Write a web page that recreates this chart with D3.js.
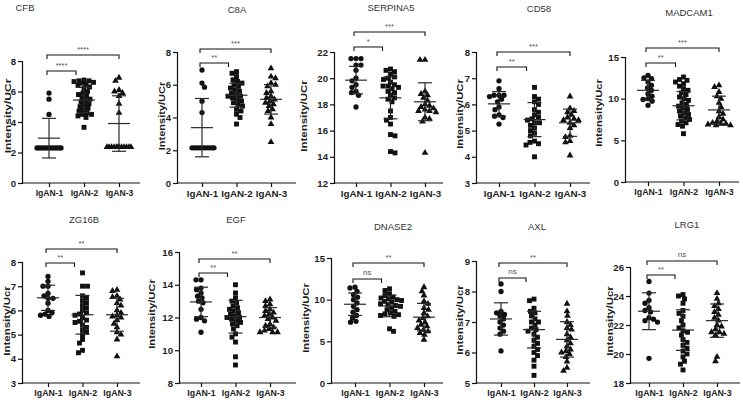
<!DOCTYPE html>
<html><head><meta charset="utf-8">
<script src="https://cdn.jsdelivr.net/npm/d3@7"></script>
<style>
html,body{margin:0;padding:0;background:#fff;}
svg{display:block;font-family:"Liberation Sans",Arial,sans-serif;}
</style></head>
<body><svg id="c" width="743" height="402"></svg>
<script>
// ---------- data ----------
const groups = ["IgAN-1", "IgAN-2", "IgAN-3"];
const genes = ["CFB", "C8A", "SERPINA5", "CD58", "MADCAM1", "ZG16B", "EGF", "DNASE2", "AXL", "LRG1"];
const yLabels = ["Intensity/UCr", "Intensity/UCr", "Intensity/UCr", "Intensity/UCr", "Intensity/Ucr",
                 "Intensity/Ucr", "Intensity/UCr", "Intensity/UCr", "Intensity/Ucr", "Intensity/Ucr"];

const cfbTicks = [0, 2, 4, 6, 8];
const cfbG1 = [5.9, 5.5, 4.5, 2.3, 2.3, 2.3, 2.3, 2.3, 2.3, 2.3, 2.3, 2.3, 2.3, 2.3];
const cfbG2 = [6.75, 6.7, 6.7, 6.65, 6.6, 6.55, 6.5, 6.4, 6.3, 6.2, 6.0, 5.9, 5.8, 5.7, 5.6, 5.5, 5.4, 5.3, 5.2, 5.1, 5.0, 4.9, 4.8, 4.7, 4.6, 4.5, 4.5, 4.4, 4.3, 3.65];
const cfbG3 = [6.9, 6.7, 6.1, 6.0, 5.9, 5.7, 5.2, 4.6, 2.35, 2.35, 2.35, 2.35, 2.35, 2.35, 2.35, 2.35, 2.35, 2.35, 2.35, 2.35];
const cfbMean = [2.94, 5.44, 3.9];
const cfbSD = [1.3, 0.83, 1.82];
const cfbSig = ["****", "****"];

const c8aTicks = [0, 2, 4, 6, 8];
const c8aG1 = [6.9, 6.1, 5.85, 5.0, 4.3, 2.15, 2.15, 2.15, 2.15, 2.15, 2.15, 2.15, 2.15, 2.15, 2.15];
const c8aG2 = [6.8, 6.7, 6.5, 6.3, 6.2, 6.1, 6.0, 5.9, 5.8, 5.7, 5.6, 5.5, 5.4, 5.3, 5.3, 5.2, 5.1, 5.0, 4.9, 4.8, 4.7, 4.5, 4.4, 4.2, 4.0, 3.6];
const c8aG3 = [7.0, 6.5, 6.4, 6.1, 6.0, 5.9, 5.6, 5.5, 5.3, 5.2, 5.1, 5.0, 4.9, 4.8, 4.7, 4.5, 4.4, 4.0, 3.6, 2.5];
const c8aMean = [3.38, 5.36, 5.11];
const c8aSD = [1.78, 0.73, 0.9];
const c8aSig = ["**", "***"];

const serTicks = [12, 14, 16, 18, 20, 22];
const serG1 = [21.5, 21.5, 21.5, 21.0, 21.0, 20.6, 20.0, 19.8, 19.5, 19.3, 19.0, 18.9, 18.7, 17.8];
const serG2 = [20.7, 20.6, 20.5, 20.3, 20.1, 20.0, 19.9, 19.7, 19.5, 19.4, 19.4, 19.3, 19.2, 19.0, 18.9, 18.7, 18.5, 18.4, 18.2, 17.5, 17.0, 16.8, 16.5, 15.7, 15.6, 14.4, 14.3];
const serG3 = [21.4, 21.4, 19.0, 18.8, 18.7, 18.5, 18.3, 18.0, 17.9, 17.8, 17.7, 17.6, 17.5, 17.5, 17.4, 17.0, 16.9, 16.7, 14.3];
const serMean = [19.85, 18.5, 18.2];
const serSD = [1.05, 1.6, 1.45];
const serSig = ["*", "***"];

const cd58Ticks = [3, 4, 5, 6, 7, 8];
const cd58G1 = [6.9, 6.6, 6.35, 6.35, 6.35, 6.3, 6.2, 6.1, 5.9, 5.8, 5.6, 5.55, 5.5, 5.25];
const cd58G2 = [6.65, 6.3, 6.2, 6.1, 6.0, 5.8, 5.7, 5.6, 5.5, 5.45, 5.4, 5.3, 5.3, 5.2, 5.1, 5.0, 4.9, 4.8, 4.6, 4.55, 4.5, 4.45, 4.0];
const cd58G3 = [6.3, 5.85, 5.75, 5.7, 5.6, 5.5, 5.45, 5.4, 5.4, 5.3, 5.2, 5.1, 4.8, 4.75, 4.6, 4.55, 4.05];
const cd58Mean = [6.02, 5.42, 5.3];
const cd58SD = [0.47, 0.65, 0.52];
const cd58Sig = ["**", "***"];

const madTicks = [0, 5, 10, 15];
const madG1 = [12.8, 12.5, 12.4, 12.0, 11.6, 11.3, 11.0, 10.6, 10.3, 10.0, 9.9, 9.7, 9.2];
const madG2 = [12.6, 12.3, 12.2, 12.0, 11.8, 11.5, 11.2, 11.0, 10.7, 10.5, 10.2, 10.0, 9.8, 9.5, 9.3, 9.1, 8.9, 8.7, 8.5, 8.3, 8.1, 7.9, 7.7, 7.5, 7.3, 7.1, 6.9, 6.7, 5.8];
const madG3 = [11.6, 11.4, 10.8, 10.3, 10.0, 9.5, 9.0, 8.5, 8.2, 7.8, 7.5, 7.3, 7.1, 7.0, 7.0, 6.9, 6.8, 6.8];
const madMean = [11.0, 9.15, 8.65];
const madSD = [1.2, 1.7, 1.65];
const madSig = ["**", "***"];

const zgTicks = [3, 4, 5, 6, 7, 8];
const zgG1 = [7.4, 7.2, 7.0, 7.0, 6.7, 6.6, 6.5, 6.5, 6.3, 6.0, 5.9, 5.85, 5.8, 5.75];
const zgG2 = [7.55, 7.0, 7.0, 6.6, 6.5, 6.4, 6.3, 6.2, 6.1, 6.0, 5.9, 5.85, 5.8, 5.7, 5.6, 5.55, 5.5, 5.4, 5.3, 5.2, 5.1, 5.0, 4.8, 4.65, 4.35, 4.25];
const zgG3 = [6.85, 6.8, 6.6, 6.55, 6.45, 6.3, 6.2, 6.0, 5.9, 5.8, 5.75, 5.7, 5.6, 5.45, 5.3, 5.1, 5.0, 4.8, 4.1];
const zgMean = [6.52, 5.82, 5.82];
const zgSD = [0.52, 0.8, 0.68];
const zgSig = ["**", "**"];

const egfTicks = [8, 10, 12, 14, 16];
const egfG1 = [14.3, 14.3, 13.8, 13.7, 13.5, 13.3, 13.2, 13.0, 12.9, 12.5, 12.0, 11.9, 11.8, 11.1];
const egfG2 = [14.0, 13.5, 13.2, 13.0, 12.9, 12.7, 12.6, 12.5, 12.4, 12.3, 12.2, 12.1, 12.0, 12.0, 11.9, 11.8, 11.7, 11.6, 11.5, 11.3, 11.0, 10.8, 10.5, 9.6, 9.1];
const egfG3 = [13.1, 13.0, 12.8, 12.7, 12.5, 12.4, 12.3, 12.2, 12.1, 12.0, 11.9, 11.8, 11.6, 11.5, 11.4, 11.3, 11.2, 11.1, 11.1, 11.1];
const egfMean = [12.95, 12.05, 12.0];
const egfSD = [0.9, 1.0, 0.6];
const egfSig = ["**", "**"];

const dnTicks = [0, 5, 10, 15];
const dnG1 = [11.5, 11.4, 11.0, 10.6, 10.3, 10.0, 9.6, 9.2, 8.8, 8.5, 8.1, 7.8, 7.4, 7.3];
const dnG2 = [11.3, 11.1, 10.7, 10.5, 10.3, 10.2, 10.1, 10.0, 9.9, 9.8, 9.7, 9.5, 9.4, 9.3, 9.2, 9.0, 8.8, 8.6, 8.4, 8.3, 8.2, 8.1, 8.0, 6.5, 6.2];
const dnG3 = [11.5, 11.0, 10.5, 9.8, 9.5, 9.0, 8.8, 8.4, 8.0, 7.8, 7.5, 7.3, 7.0, 6.8, 6.6, 6.4, 6.2, 6.0, 5.8, 5.2];
const dnMean = [9.45, 9.25, 7.9];
const dnSD = [1.35, 1.3, 1.65];
const dnSig = ["ns", "**"];

const axlTicks = [5, 6, 7, 8, 9];
const axlG1 = [8.25, 8.0, 7.35, 7.3, 7.25, 7.2, 7.1, 7.0, 6.9, 6.8, 6.7, 6.6, 6.05];
const axlG2 = [7.75, 7.7, 7.45, 7.35, 7.3, 7.2, 7.1, 7.0, 7.0, 6.9, 6.8, 6.75, 6.7, 6.6, 6.5, 6.4, 6.3, 6.2, 6.1, 6.0, 5.9, 5.75, 5.55, 5.25];
const axlG3 = [7.6, 7.35, 7.2, 7.0, 6.9, 6.8, 6.75, 6.6, 6.5, 6.4, 6.3, 6.2, 6.1, 6.05, 6.0, 5.95, 5.85, 5.7, 5.5, 5.4];
const axlMean = [7.1, 6.75, 6.43];
const axlSD = [0.53, 0.6, 0.58];
const axlSig = ["ns", "**"];

const lrgTicks = [18, 20, 22, 24, 26];
const lrgG1 = [25.0, 24.2, 23.7, 23.5, 23.2, 23.0, 22.9, 22.5, 22.4, 22.3, 22.2, 19.7];
const lrgG2 = [24.1, 24.0, 23.8, 23.5, 23.0, 22.8, 22.6, 22.3, 22.0, 21.8, 21.6, 21.5, 21.3, 21.0, 20.8, 20.6, 20.4, 20.2, 20.0, 19.8, 19.5, 19.3, 18.9];
const lrgG3 = [24.2, 23.8, 23.5, 23.3, 23.1, 22.9, 22.7, 22.5, 22.3, 22.0, 21.9, 21.7, 21.5, 21.5, 21.4, 21.3, 19.8, 19.5];
const lrgMean = [22.95, 21.65, 22.3];
const lrgSD = [1.27, 1.4, 1.15];
const lrgSig = ["**", "ns"];

// ---------- layout (pixels / font sizes) ----------
const layout = [
  {ax: 22,  top: 61,  bot: 183, c1: 49,  c3: 119, end: 140, tx: 25,  ty: 11,  lx: 7,   ly: 116, br: [71, 55],   xf: 8.6, lf: 12},
  {ax: 177, top: 52,  bot: 183, c1: 202, c3: 271, end: 296, tx: 237, ty: 13,  lx: 162, ly: 116, br: [63, 49],   xf: 9.8, lf: 11},
  {ax: 334, top: 52,  bot: 183, c1: 356, c3: 425, end: 443, tx: 391, ty: 11,  lx: 304, ly: 116, br: [47, 32],   xf: 9.8, lf: 11.5},
  {ax: 476, top: 52,  bot: 183, c1: 499, c3: 570, end: 590, tx: 539, ty: 12,  lx: 460, ly: 114, br: [67, 52],   xf: 9.8, lf: 11.2},
  {ax: 625, top: 57,  bot: 182, c1: 648, c3: 719, end: 739, tx: 689, ty: 16,  lx: 599, ly: 113, br: [63, 48],   xf: 8.8, lf: 11.2},
  {ax: 22,  top: 262, bot: 383, c1: 48,  c3: 117, end: 140, tx: 84,  ty: 223, lx: 7,   ly: 321, br: [263, 249], xf: 8.8, lf: 11.5},
  {ax: 179, top: 252, bot: 383, c1: 201, c3: 270, end: 296, tx: 236, ty: 223, lx: 152, ly: 314, br: [273, 259], xf: 8.8, lf: 11.2},
  {ax: 331, top: 258, bot: 383, c1: 355, c3: 424, end: 443, tx: 393, ty: 230, lx: 306, ly: 318, br: [279, 263], xf: 8.8, lf: 11.2},
  {ax: 476, top: 261, bot: 383, c1: 501, c3: 567, end: 590, tx: 537, ty: 230, lx: 460, ly: 320, br: [278, 263], xf: 8.8, lf: 11.5},
  {ax: 630, top: 267, bot: 383, c1: 649, c3: 717, end: 740, tx: 687, ty: 228, lx: 610, ly: 321, br: [275, 261], xf: 8.8, lf: 11.5}
];

const panelData = [
  {ticks: cfbTicks, g: [cfbG1, cfbG2, cfbG3], mean: cfbMean, sd: cfbSD, sig: cfbSig},
  {ticks: c8aTicks, g: [c8aG1, c8aG2, c8aG3], mean: c8aMean, sd: c8aSD, sig: c8aSig},
  {ticks: serTicks, g: [serG1, serG2, serG3], mean: serMean, sd: serSD, sig: serSig},
  {ticks: cd58Ticks, g: [cd58G1, cd58G2, cd58G3], mean: cd58Mean, sd: cd58SD, sig: cd58Sig},
  {ticks: madTicks, g: [madG1, madG2, madG3], mean: madMean, sd: madSD, sig: madSig},
  {ticks: zgTicks, g: [zgG1, zgG2, zgG3], mean: zgMean, sd: zgSD, sig: zgSig},
  {ticks: egfTicks, g: [egfG1, egfG2, egfG3], mean: egfMean, sd: egfSD, sig: egfSig},
  {ticks: dnTicks, g: [dnG1, dnG2, dnG3], mean: dnMean, sd: dnSD, sig: dnSig},
  {ticks: axlTicks, g: [axlG1, axlG2, axlG3], mean: axlMean, sd: axlSD, sig: axlSig},
  {ticks: lrgTicks, g: [lrgG1, lrgG2, lrgG3], mean: lrgMean, sd: lrgSD, sig: lrgSig}
];

// ---------- drawing ----------
const svg = d3.select("#c");
const symbols = [d3.symbolCircle, d3.symbolSquare, d3.symbolTriangle];
const symSize = [22, 24, 20];
const ink = "#111";
const barInk = "#2a2a2a";
const textInk = "#1e1e1e";

// deterministic swarm layout: x offsets that avoid overlap within a cap
function swarm(vals, yScale, cap, D) {
  const order = vals.map((v, i) => i).sort((a, b) => vals[b] - vals[a] || a - b);
  const placed = [];
  const out = new Array(vals.length).fill(0);
  const cands = [0];
  for (let s = 0.5; s <= cap; s += 0.5) { cands.push(s, -s); }
  order.forEach((i, n) => {
    const py = yScale(vals[i]);
    let best = 0, bestD = -1;
    const list = (n % 2) ? cands.map(c => -c) : cands;
    for (const cx of list) {
      let md = Infinity;
      for (const p of placed) {
        const d = Math.hypot(p[0] - cx, p[1] - py);
        if (d < md) md = d;
      }
      if (md >= D) { best = cx; break; }
      if (md > bestD) { bestD = md; best = cx; }
    }
    placed.push([best, py]);
    out[i] = best;
  });
  return out;
}

panelData.forEach((pd, k) => {
  const L = layout[k];
  const g = svg.append("g");
  const y = d3.scaleLinear().domain([pd.ticks[0], pd.ticks[pd.ticks.length - 1]]).range([L.bot, L.top]);
  const x = d3.scalePoint().domain(groups).range([L.c1, L.c3]);

  // title
  g.append("text").attr("x", L.tx).attr("y", L.ty).attr("text-anchor", "middle")
    .attr("font-size", 9.5).attr("fill", "#333").text(genes[k]);

  // y axis
  const yAxis = d3.axisLeft(y).tickValues(pd.ticks).tickSize(4).tickPadding(2).tickFormat(d3.format("d"));
  const ga = g.append("g").attr("transform", `translate(${L.ax},0)`).call(yAxis);
  ga.select(".domain").attr("stroke", ink).attr("stroke-width", 1.2);
  ga.selectAll(".tick line").attr("stroke", ink).attr("stroke-width", 1.2);
  ga.selectAll(".tick text").attr("font-size", 9.6).attr("font-weight", "bold")
    .attr("fill", textInk).attr("font-family", "Liberation Sans, Arial, sans-serif");

  // x axis
  const xAxis = d3.axisBottom(x).tickSize(4).tickSizeOuter(0).tickPadding(3);
  const gx = g.append("g").attr("transform", `translate(0,${L.bot})`).call(xAxis);
  gx.select(".domain").remove();
  gx.append("line").attr("x1", L.ax).attr("x2", L.end).attr("y1", 0).attr("y2", 0)
    .attr("stroke", ink).attr("stroke-width", 1.2);
  gx.selectAll(".tick line").attr("stroke", ink).attr("stroke-width", 1.2);
  gx.selectAll(".tick text").attr("font-size", L.xf).attr("font-weight", "bold")
    .attr("fill", textInk).attr("font-family", "Liberation Sans, Arial, sans-serif");

  // y label (glyphs slightly condensed across, as in the reference)
  g.append("text").attr("transform", `translate(${L.lx},${L.ly}) scale(0.8,1) rotate(-90)`)
    .attr("text-anchor", "middle").attr("dominant-baseline", "central")
    .attr("font-size", L.lf).attr("font-weight", "bold").attr("fill", textInk).text(yLabels[k]);

  // points
  pd.g.forEach((vals, gi) => {
    const offs = swarm(vals, y, 12, 4.6);
    const cx = x(groups[gi]);
    g.append("g").selectAll("path").data(vals).join("path")
      .attr("d", d3.symbol().type(symbols[gi]).size(symSize[gi]))
      .attr("transform", (v, i) => `translate(${cx + offs[i]},${y(v)})`)
      .attr("fill", ink);
  });

  // mean ± SD
  groups.forEach((grp, gi) => {
    const cx = x(grp), m = pd.mean[gi], s = pd.sd[gi];
    const eb = g.append("g").attr("stroke", barInk).attr("stroke-width", 1.2).attr("fill", "none");
    eb.append("line").attr("x1", cx).attr("x2", cx).attr("y1", y(m + s)).attr("y2", y(m - s));
    eb.append("line").attr("x1", cx - 11).attr("x2", cx + 11).attr("y1", y(m)).attr("y2", y(m));
    eb.append("line").attr("x1", cx - 7).attr("x2", cx + 7).attr("y1", y(m + s)).attr("y2", y(m + s));
    eb.append("line").attr("x1", cx - 7).attr("x2", cx + 7).attr("y1", y(m - s)).attr("y2", y(m - s));
  });

  // significance brackets: [IgAN-1 vs IgAN-2 (lower), IgAN-1 vs IgAN-3 (upper)]
  const pairs = [[x(groups[0]) - 2, x(groups[1]) - 8], [x(groups[0]) - 2, x(groups[2])]];
  pairs.forEach((pr, bi) => {
    const by = L.br[bi];
    g.append("path").attr("d", `M${pr[0]},${by + 4}V${by}H${pr[1]}V${by + 4}`)
      .attr("fill", "none").attr("stroke", ink).attr("stroke-width", 1.1);
    const lab = pd.sig[bi];
    g.append("text").attr("x", (pr[0] + pr[1]) / 2).attr("y", lab === "ns" ? by - 4 : by - 3)
      .attr("text-anchor", "middle").attr("font-size", lab === "ns" ? 8 : 7.5)
      .attr("fill", "#555").text(lab);
  });
});
</script></body></html>
